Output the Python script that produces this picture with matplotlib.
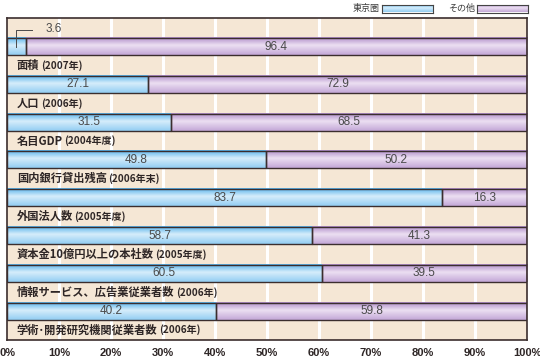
import numpy as np
import matplotlib
matplotlib.use("Agg")
import matplotlib.pyplot as plt
from matplotlib.colors import to_rgb

plt.rcParams['font.family'] = ['Noto Sans CJK JP', 'DejaVu Sans']

categories = ["面積", "人口", "名目GDP", "国内銀行貸出残高", "外国法人数",
              "資本金10億円以上の本社数", "情報サービス、広告業従業者数", "学術･開発研究機関従業者数"]
periods = ["(2007年)", "(2006年)", "(2004年度)", "(2006年末)", "(2005年度)",
           "(2005年度)", "(2006年)", "(2006年)"]
tokyo = [3.6, 27.1, 31.5, 49.8, 83.7, 58.7, 60.5, 40.2]
other = [96.4, 72.9, 68.5, 50.2, 16.3, 41.3, 39.5, 59.8]
series_names = ["東京圏", "その他"]
xticks = [0, 10, 20, 30, 40, 50, 60, 70, 80, 90, 100]

blue_stops = ["#55b2ea", "#d6edfb", "#92cdf2"]
purple_stops = ["#ae8bc8", "#ecdff2", "#c3a7d7"]
edge = "#3b2e2e"
bg = "#f5e7d5"

def grad(stops, n=64):
    cols = [np.array(to_rgb(c)) for c in stops]
    pos = [0.0, 0.45, 1.0]
    t = np.linspace(0, 1, n)
    arr = np.zeros((n, 1, 3))
    for k in range(3):
        arr[:, 0, k] = np.interp(t, pos, [c[k] for c in cols])
    return arr

gb = grad(blue_stops)
gp = grad(purple_stops)

fig = plt.figure(figsize=(5.4, 3.61), dpi=100)
ax = fig.add_axes([7/540, 1-340/361, 520/540, 322/361])
ax.set_facecolor(bg)

n = len(categories)
h = 0.45
top = -0.755
bottom = top + 322/37.8
y = np.arange(n)

for g in xticks[1:-1]:
    ax.axvline(g, color="white", lw=2.2, zorder=1)

for i in range(n):
    l1, w1 = 0, tokyo[i]
    l2, w2 = tokyo[i], other[i]
    ax.imshow(gb, extent=(l1, l1+w1, i+h/2, i-h/2), aspect='auto', zorder=2, interpolation='bilinear')
    ax.imshow(gp, extent=(l2, l2+w2, i+h/2, i-h/2), aspect='auto', zorder=2, interpolation='bilinear')

ax.barh(y, tokyo, height=h, left=0, facecolor='none', edgecolor=edge, lw=1.0, zorder=3)
ax.barh(y, other, height=h, left=tokyo, facecolor='none', edgecolor=edge, lw=1.0, zorder=3)

valfont = dict(family=['Liberation Sans', 'DejaVu Sans'], fontsize=8.5, color="#4a4a4a")
for i in range(n):
    if tokyo[i] >= 10:
        ax.text(tokyo[i]/2, i, f"{tokyo[i]:.1f}", ha='center', va='center', zorder=4, **valfont)
    else:
        ax.plot([tokyo[i]/2, tokyo[i]/2, tokyo[i]/2+3.1], [i, i-0.43, i-0.43], color="#4a4a4a", lw=0.7, zorder=4)
        ax.text(tokyo[i]/2+5.7, i-0.46, f"{tokyo[i]:.1f}", ha='left', va='center', zorder=4, **valfont)
    ax.text(tokyo[i] + other[i]/2, i, f"{other[i]:.1f}", ha='center', va='center', zorder=4, **valfont)

    t1 = ax.text(1.9, i+0.5, categories[i], ha='left', va='center', fontsize=8.1,
                 fontweight='bold', color="#2e2626", zorder=4)
    ax.annotate(periods[i], xy=(1, 0.5), xycoords=t1, xytext=(1, 0), textcoords='offset points',
                ha='left', va='center', fontsize=7.2, fontweight='bold', color="#2e2626", zorder=4)

ax.set_xlim(0, 100)
ax.set_ylim(bottom, top)
ax.set_xticks(xticks)
ax.set_xticklabels([f"{v}%" for v in xticks], fontfamily=['Liberation Sans', 'DejaVu Sans'],
                   fontsize=8, fontweight='bold', color="#2e2626")
ax.set_yticks([])
ax.tick_params(axis='x', length=0, pad=6)
for s in ax.spines.values():
    s.set_color(edge)
    s.set_linewidth(1.2)
    s.set_zorder(5)

# legend
legend_items = [(series_names[0], gb, 382), (series_names[1], gp, 477)]
for name, g, x0 in legend_items:
    lax = fig.add_axes([x0/540, 1-12.5/361, 51/540, 8/361])
    lax.imshow(g, extent=(0, 1, 1, 0), aspect='auto', interpolation='bilinear')
    lax.set_xlim(0, 1); lax.set_ylim(1, 0)
    lax.set_xticks([]); lax.set_yticks([])
    for s in lax.spines.values():
        s.set_color("#444444"); s.set_linewidth(0.8)
    fig.text((x0-2)/540, 1-8.5/361, name, ha='right', va='center', fontsize=6.5, color="#3a3a3a")

fig.savefig("out.png", dpi=100)
